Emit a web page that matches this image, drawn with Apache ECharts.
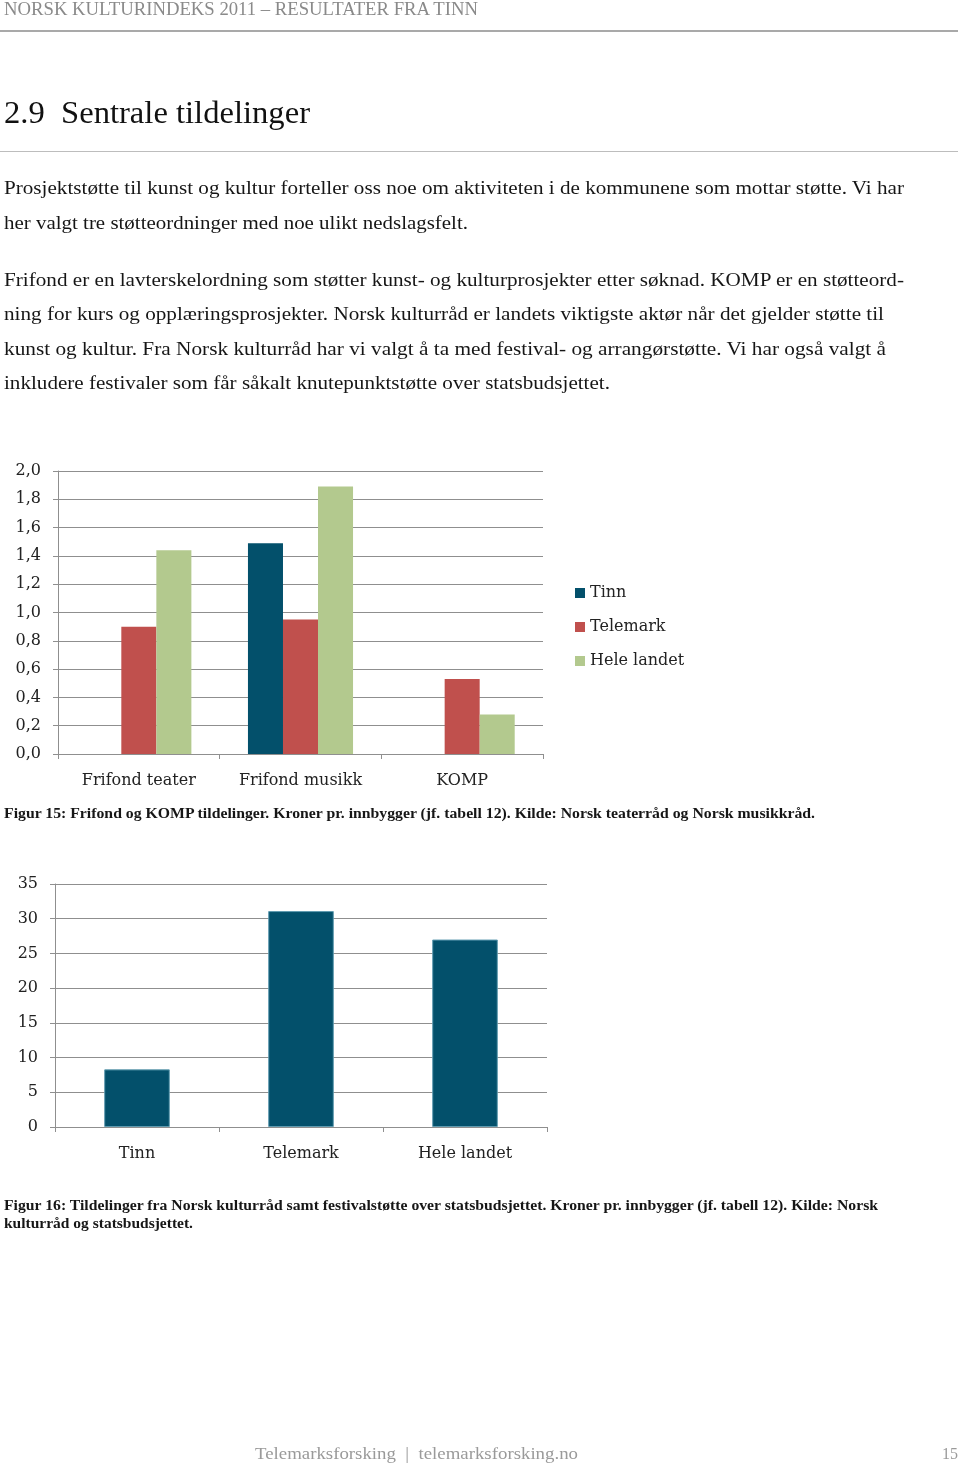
<!DOCTYPE html>
<html><head><meta charset="utf-8">
<script src="https://cdn.jsdelivr.net/npm/echarts@6/dist/echarts.min.js"></script>
<style>
html,body{margin:0;padding:0;background:#fff;}
#page{position:relative;width:960px;height:1464px;overflow:hidden;background:#fff;}
#chart{position:absolute;left:0;top:0;width:960px;height:1464px;}
.t{position:absolute;left:4px;white-space:nowrap;font-family:"Liberation Serif",serif;line-height:1;transform-origin:0 0;color:#161616;display:inline-block;}
.b{font-weight:bold;}
.rule{position:absolute;left:0;width:958px;}
</style></head>
<body><div id="page">
<div id="chart"></div>
<div class="t" data-w="474" data-b="15" style="font-size:18px;color:#8a8a8a">NORSK KULTURINDEKS 2011 – RESULTATER FRA TINN</div>
<div class="rule" style="top:30px;height:2px;background:#a9a9a9"></div>
<div class="t" data-w="306" data-b="123" style="font-size:31px;color:#111">2.9&nbsp; Sentrale tildelinger</div>
<div class="rule" style="top:151px;height:1px;background:#bdbdbd"></div>

<div class="t" data-w="900" data-b="194.5" style="font-size:18.5px">Prosjektstøtte til kunst og kultur forteller oss noe om aktiviteten i de kommunene som mottar støtte. Vi har</div>
<div class="t" data-w="464" data-b="229" style="font-size:18.5px">her valgt tre støtteordninger med noe ulikt nedslagsfelt.</div>
<div class="t" data-w="900" data-b="286" style="font-size:18.5px">Frifond er en lavterskelordning som støtter kunst- og kulturprosjekter etter søknad. KOMP er en støtteord-</div>
<div class="t" data-w="880" data-b="320.5" style="font-size:18.5px">ning for kurs og opplæringsprosjekter. Norsk kulturråd er landets viktigste aktør når det gjelder støtte til</div>
<div class="t" data-w="882" data-b="355" style="font-size:18.5px">kunst og kultur. Fra Norsk kulturråd har vi valgt å ta med festival- og arrangørstøtte. Vi har også valgt å</div>
<div class="t" data-w="606" data-b="389.5" style="font-size:18.5px">inkludere festivaler som får såkalt knutepunktstøtte over statsbudsjettet.</div>

<div class="t b" data-w="811" data-b="818" style="font-size:15.5px">Figur 15: Frifond og KOMP tildelinger. Kroner pr. innbygger (jf. tabell 12). Kilde: Norsk teaterråd og Norsk musikkråd.</div>
<div class="t b" data-w="874" data-b="1211" style="font-size:15px">Figur 16: Tildelinger fra Norsk kulturråd samt festivalstøtte over statsbudsjettet. Kroner pr. innbygger (jf. tabell 12). Kilde: Norsk</div>
<div class="t b" data-w="189" data-b="1229" style="font-size:15px">kulturråd og statsbudsjettet.</div>

<div class="t" data-w="323" data-b="1460" style="left:255px;font-size:17.5px;color:#9a9a9a">Telemarksforsking&nbsp; |&nbsp; telemarksforsking.no</div>
<div class="t" data-w="16" data-b="1460" style="left:942px;font-size:17.5px;color:#9a9a9a">15</div>
</div>
<script>
// ---- Figure 15 data ----
const categories1 = ['Frifond teater', 'Frifond musikk', 'KOMP'];
const seriesNames1 = ['Tinn', 'Telemark', 'Hele landet'];
const tinn1 = [0, 1.49, 0];
const telemark1 = [0.90, 0.95, 0.53];
const heleLandet1 = [1.44, 1.89, 0.28];
// ---- Figure 16 data ----
const categories2 = ['Tinn', 'Telemark', 'Hele landet'];
const values2 = [8.3, 31.1, 27.0];

const colors = ['#03506B', '#C0504D', '#B3C98E'];
const FONT = '"DejaVu Serif", serif';
const gridColor = '#8f8f8f';

// fit text lines
document.querySelectorAll('.t').forEach(el => {
  const fs = parseFloat(el.style.fontSize);
  const b = parseFloat(el.dataset.b);
  el.style.top = (b - 0.8375 * fs) + 'px';
  const w = el.getBoundingClientRect().width;
  const target = parseFloat(el.dataset.w);
  el.style.transform = 'scaleX(' + (target / w) + ')';
});

const chart = echarts.init(document.getElementById('chart'), null, {renderer: 'canvas'});

function valAxis(gridIndex, max, interval, margin, fmt) {
  return {
    type: 'value', gridIndex, min: 0, max, interval,
    axisLine: {show: true, lineStyle: {color: gridColor, width: 1}},
    axisTick: {show: true, length: 5, lineStyle: {color: gridColor, width: 1}},
    splitLine: {show: true, lineStyle: {color: gridColor, width: 1}},
    axisLabel: {show: true, margin, color: '#222', fontFamily: FONT, fontSize: 16, padding: [4, 0, 0, 0], formatter: fmt}
  };
}
function catAxis(gridIndex, data) {
  return {
    type: 'category', gridIndex, data,
    axisLine: {show: true, lineStyle: {color: gridColor, width: 1}},
    axisTick: {show: true, alignWithLabel: false, length: 5, lineStyle: {color: gridColor, width: 1}},
    splitLine: {show: false},
    axisLabel: {show: true, margin: 19, color: '#222', fontFamily: FONT, fontSize: 16, interval: 0}
  };
}

const option = {
  animation: false,
  backgroundColor: 'transparent',
  grid: [
    {left: 58, top: 471, width: 485, height: 283, containLabel: false, outerBoundsMode: 'none'},
    {left: 55, top: 884, width: 492, height: 243, containLabel: false, outerBoundsMode: 'none'}
  ],
  legend: {
    data: seriesNames1,
    orient: 'vertical', left: 575, top: 585,
    icon: 'rect', itemWidth: 10, itemHeight: 10, itemGap: 18,
    textStyle: {fontFamily: FONT, fontSize: 16, color: '#222', lineHeight: 16, padding: [0, 0, 0, 0]},
    padding: 0
  },
  xAxis: [catAxis(0, categories1), catAxis(1, categories2)],
  yAxis: [
    valAxis(0, 2, 0.2, 17, v => v.toFixed(1).replace('.', ',')),
    valAxis(1, 35, 5, 17, v => String(v))
  ],
  series: [
    {name: seriesNames1[0], type: 'bar', xAxisIndex: 0, yAxisIndex: 0, data: tinn1, barGap: '0%', barCategoryGap: '35%', itemStyle: {color: colors[0]}},
    {name: seriesNames1[1], type: 'bar', xAxisIndex: 0, yAxisIndex: 0, data: telemark1, barGap: '0%', barCategoryGap: '35%', itemStyle: {color: colors[1]}},
    {name: seriesNames1[2], type: 'bar', xAxisIndex: 0, yAxisIndex: 0, data: heleLandet1, barGap: '0%', barCategoryGap: '35%', itemStyle: {color: colors[2]}},
    {name: 'Fig16', type: 'bar', xAxisIndex: 1, yAxisIndex: 1, data: values2, barCategoryGap: '60%', itemStyle: {color: colors[0], borderColor: '#5f9bb0', borderWidth: 1}}
  ]
};
chart.setOption(option);
</script>
</body></html>
